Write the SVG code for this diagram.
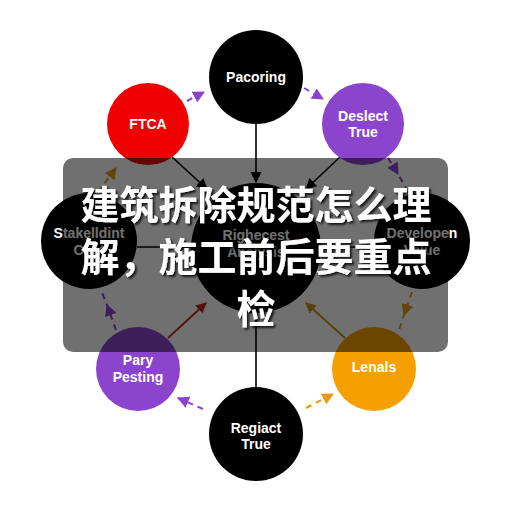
<svg xmlns="http://www.w3.org/2000/svg" width="512" height="512" viewBox="0 0 512 512">
<defs>
<style>
.lbl{font-family:"Liberation Sans",Arial,sans-serif;font-weight:bold;font-size:14px;fill:#fff;text-anchor:middle}
.solid{stroke:#000;stroke-width:1.6;fill:none}
.dp{stroke:#8B44CC;stroke-width:2;fill:none;stroke-dasharray:6 5}
.do{stroke:#E89A10;stroke-width:2;fill:none;stroke-dasharray:6 5}
.title{font-family:"Noto Sans CJK SC","Noto Sans CJK JP",sans-serif;font-weight:bold;font-size:39px;fill:#fff;text-anchor:middle}
</style>
<marker id="ab" viewBox="0 0 10 10" refX="9" refY="5" markerWidth="7" markerHeight="7" orient="auto"><path d="M0,0 L10,5 L0,10 z" fill="#000"/></marker>
<marker id="ap" viewBox="0 0 10 10" refX="9" refY="5" markerWidth="6" markerHeight="6" orient="auto"><path d="M0,0 L10,5 L0,10 z" fill="#8B44CC"/></marker>
<marker id="ao" viewBox="0 0 10 10" refX="9" refY="5" markerWidth="6" markerHeight="6" orient="auto"><path d="M0,0 L10,5 L0,10 z" fill="#E89A10"/></marker>
<marker id="ar" viewBox="0 0 10 10" refX="9" refY="5" markerWidth="6" markerHeight="6" orient="auto"><path d="M0,0 L10,5 L0,10 z" fill="#C02828"/></marker>
<marker id="ay" viewBox="0 0 10 10" refX="9" refY="5" markerWidth="6" markerHeight="6" orient="auto"><path d="M0,0 L10,5 L0,10 z" fill="#C8901E"/></marker>
<filter id="sh" x="-10%" y="-10%" width="120%" height="130%"><feDropShadow dx="2" dy="2" stdDeviation="1.2" flood-color="#000" flood-opacity="0.8"/></filter>
</defs>
<rect width="512" height="512" fill="#fff"/>
<g id="connectors">
<line class="solid" x1="256" y1="124" x2="256" y2="182" marker-end="url(#ab)"/>
<line class="solid" x1="172" y1="157" x2="207" y2="189" marker-end="url(#ab)"/>
<line class="solid" x1="340" y1="157" x2="306" y2="189" marker-end="url(#ab)"/>
<line class="solid" x1="137" y1="247" x2="191" y2="247"/>
<line class="solid" x1="375" y1="247" x2="321" y2="247"/>
<line x1="168" y1="338" x2="206" y2="303" stroke="#C02828" stroke-width="1.8" marker-end="url(#ar)"/>
<line x1="345" y1="338" x2="306" y2="303" stroke="#C8901E" stroke-width="1.8" marker-end="url(#ay)"/>
<line class="solid" x1="256" y1="312" x2="256" y2="387"/>
<line class="dp" x1="187" y1="101" x2="204" y2="92" marker-end="url(#ap)"/>
<line class="dp" x1="304" y1="88" x2="323" y2="99" marker-end="url(#ap)"/>
<path class="dp" d="M388,158 L398,174 L406,188" marker-mid="url(#ap)"/>
<path class="do" d="M412,292 L404,315 L399,330" marker-mid="url(#ao)"/>
<line class="do" x1="306" y1="408" x2="333" y2="394" marker-end="url(#ao)"/>
<line class="dp" x1="203" y1="409" x2="178" y2="398" marker-end="url(#ap)"/>
<path class="dp" d="M116,330 L107,305 L101,290" marker-mid="url(#ap)"/>
<path class="do" d="M98,192 L116,168" marker-end="url(#ao)"/>
</g>
<g id="n-center"><circle cx="256" cy="248" r="65" fill="#000"/><text class="lbl" x="256" y="240">Righecest</text><text class="lbl" x="256" y="257">Analysis</text></g>
<g id="n-pacoring"><circle cx="256" cy="77" r="47" fill="#000"/><text class="lbl" x="256" y="82">Pacoring</text></g>
<g id="n-ftca"><circle cx="148" cy="124" r="41" fill="#F00000"/><text class="lbl" x="148" y="129">FTCA</text></g>
<g id="n-deslect"><circle cx="363" cy="124" r="41" fill="#8B44CC"/><text class="lbl" x="363" y="121">Deslect</text><text class="lbl" x="363" y="137">True</text></g>
<g id="n-stake"><circle cx="89" cy="241" r="48" fill="#000"/><text class="lbl" x="89" y="238">Stakelldint</text><text class="lbl" x="89" y="255">Cost</text></g>
<g id="n-develop"><circle cx="422" cy="241" r="48" fill="#000"/><text class="lbl" x="422" y="238">Developen</text><text class="lbl" x="422" y="255">Value</text></g>
<g id="n-pary"><circle cx="138" cy="369" r="42" fill="#8B44CC"/><text class="lbl" x="138" y="365">Pary</text><text class="lbl" x="138" y="382">Pesting</text></g>
<g id="n-lenals"><circle cx="374" cy="369" r="42" fill="#F5A000"/><text class="lbl" x="374" y="372">Lenals</text></g>
<g id="n-regiact"><circle cx="256" cy="434" r="47" fill="#000"/><text class="lbl" x="256" y="433">Regiact</text><text class="lbl" x="256" y="449">True</text></g>
<rect x="63" y="158" width="385" height="194" rx="10" fill="#000" opacity="0.56"/>
<g filter="url(#sh)">
<text class="title" x="256" y="219">建筑拆除规范怎么理</text>
<text class="title" x="256" y="271">解，施工前后要重点</text>
<text class="title" x="256" y="323">检</text>
</g>
</svg>
